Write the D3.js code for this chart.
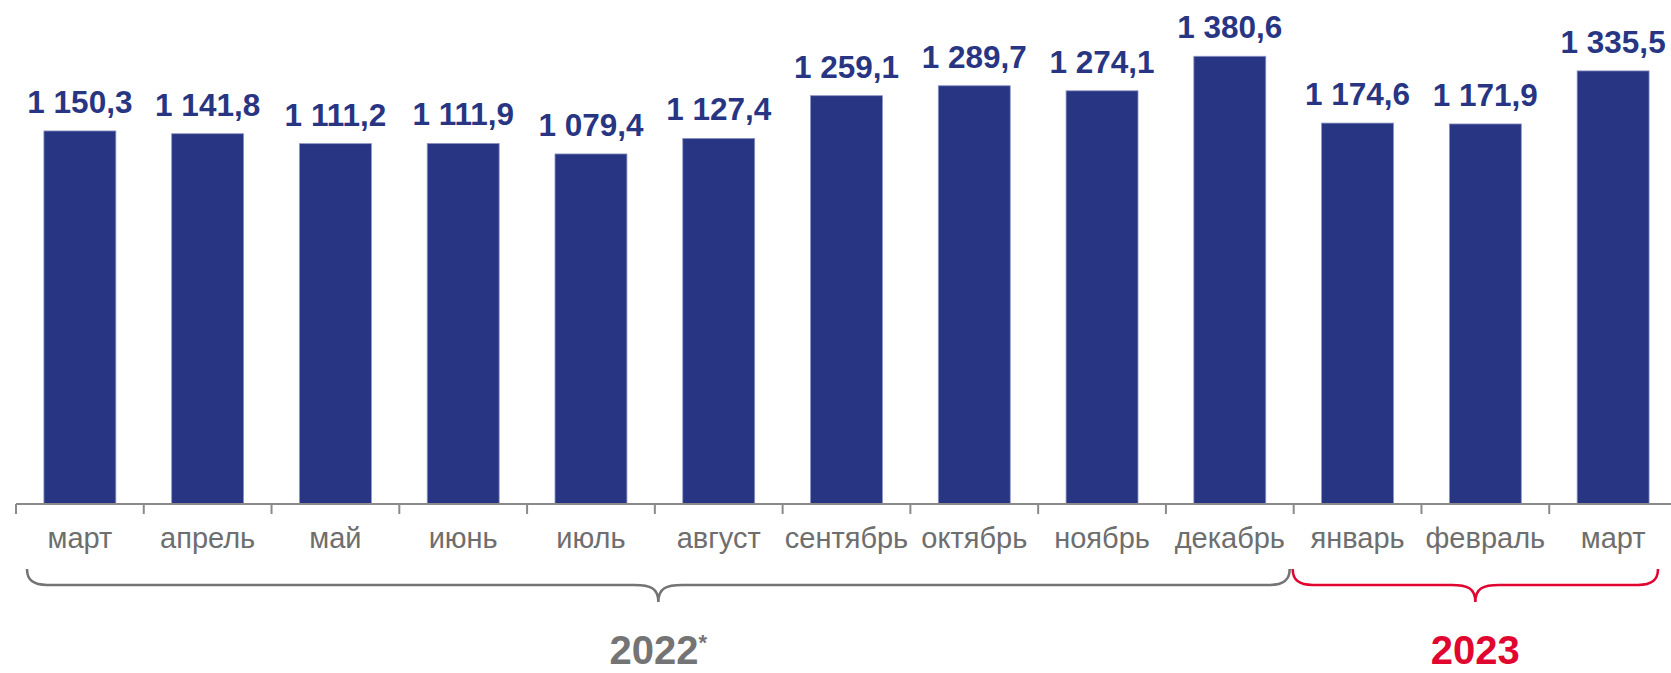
<!DOCTYPE html>
<html>
<head>
<meta charset="utf-8">
<script src="https://cdn.jsdelivr.net/npm/d3@7"></script>
<style>
  html, body { margin: 0; padding: 0; background: #ffffff; }
  svg { display: block; }
</style>
</head>
<body>
<svg id="chart" width="1671" height="673"></svg>
<script>
const months = ["март","апрель","май","июнь","июль","август","сентябрь","октябрь","ноябрь","декабрь","январь","февраль","март"];
const values = [1150.3, 1141.8, 1111.2, 1111.9, 1079.4, 1127.4, 1259.1, 1289.7, 1274.1, 1380.6, 1174.6, 1171.9, 1335.5];
const valueLabels = ["1 150,3","1 141,8","1 111,2","1 111,9","1 079,4","1 127,4","1 259,1","1 289,7","1 274,1","1 380,6","1 174,6","1 171,9","1 335,5"];
const yearLabels = ["2022", "2023"];
const yearStart = [0, 10];
const yearEnd = [9, 12];
const yearMarks = ["*", ""];

const W = 1671, H = 673;
const axisY = 504;
const svg = d3.select("#chart");
const idx = d3.range(months.length);

const x = d3.scaleBand().domain(idx).range([16, 1677]).paddingInner(0.437).paddingOuter(0.2185);
const step = x.step();
const tick = i => x(i) - x.paddingInner() * step / 2;
const y = d3.scaleLinear().domain([0, 1400]).range([axisY, axisY - 1400 * 0.3243]);

const barColor = "#283582";

// bars
svg.append("g").selectAll("rect").data(idx).join("rect")
  .attr("x", i => x(i))
  .attr("y", i => y(values[i]))
  .attr("width", x.bandwidth())
  .attr("height", i => y(0) - y(values[i]))
  .attr("fill", barColor)
  .attr("stroke", "#8c95c6")
  .attr("stroke-width", 0.8);

// value labels
svg.append("g").selectAll("text").data(idx).join("text")
  .attr("x", i => x(i) + x.bandwidth() / 2)
  .attr("y", i => y(values[i]) - 18)
  .attr("text-anchor", "middle")
  .attr("font-family", "'Liberation Sans', Arial, sans-serif")
  .attr("font-weight", "bold")
  .attr("font-size", 31.5)
  .attr("fill", barColor)
  .text(i => valueLabels[i]);

// axis line and ticks
const axisColor = "#8a8a8a";
svg.append("line")
  .attr("x1", tick(0)).attr("x2", tick(months.length - 1) + step)
  .attr("y1", axisY).attr("y2", axisY)
  .attr("stroke", axisColor).attr("stroke-width", 2);
svg.append("g").selectAll("line").data(d3.range(months.length + 1)).join("line")
  .attr("x1", i => tick(0) + i * step).attr("x2", i => tick(0) + i * step)
  .attr("y1", axisY).attr("y2", axisY + 10)
  .attr("stroke", axisColor).attr("stroke-width", 2);

// month labels
svg.append("g").selectAll("text").data(idx).join("text")
  .attr("x", i => x(i) + x.bandwidth() / 2)
  .attr("y", 548)
  .attr("text-anchor", "middle")
  .attr("font-family", "'Liberation Sans', Arial, sans-serif")
  .attr("font-size", 29)
  .attr("fill", "#6e6e6e")
  .text(i => months[i]);

// braces
function bracePath(x1, x2, yTop, yLine, yTip) {
  const mid = (x1 + x2) / 2;
  const r = 20, t = 24;
  return `M${x1},${yTop} C${x1},${yTop + 11} ${x1 + 6},${yLine} ${x1 + r},${yLine}` +
         ` L${mid - t},${yLine} C${mid - 8},${yLine} ${mid},${yLine + 3} ${mid},${yTip}` +
         ` C${mid},${yLine + 3} ${mid + 8},${yLine} ${mid + t},${yLine}` +
         ` L${x2 - r},${yLine} C${x2 - 6},${yLine} ${x2},${yTop + 11} ${x2},${yTop}`;
}
const braceColors = ["#747474", "#e1062f"];
const braceInsetL = [11, -1];
const braceInsetR = [4, 19];
yearLabels.forEach((lab, k) => {
  const x1 = tick(yearStart[k]) + braceInsetL[k];
  const x2 = tick(yearEnd[k]) + step - braceInsetR[k];
  const mid = (x1 + x2) / 2;
  svg.append("path")
    .attr("d", bracePath(x1, x2, 569, 585, 602))
    .attr("fill", "none")
    .attr("stroke", braceColors[k])
    .attr("stroke-width", 2.6);
  const t = svg.append("text")
    .attr("x", mid)
    .attr("y", 664)
    .attr("text-anchor", "middle")
    .attr("font-family", "'Liberation Sans', Arial, sans-serif")
    .attr("font-weight", "bold")
    .attr("font-size", 40)
    .attr("fill", braceColors[k]);
  t.append("tspan").text(lab);
  if (yearMarks[k]) {
    t.append("tspan").attr("dy", -14).attr("font-size", 22).text(yearMarks[k]);
  }
});
</script>
</body>
</html>
